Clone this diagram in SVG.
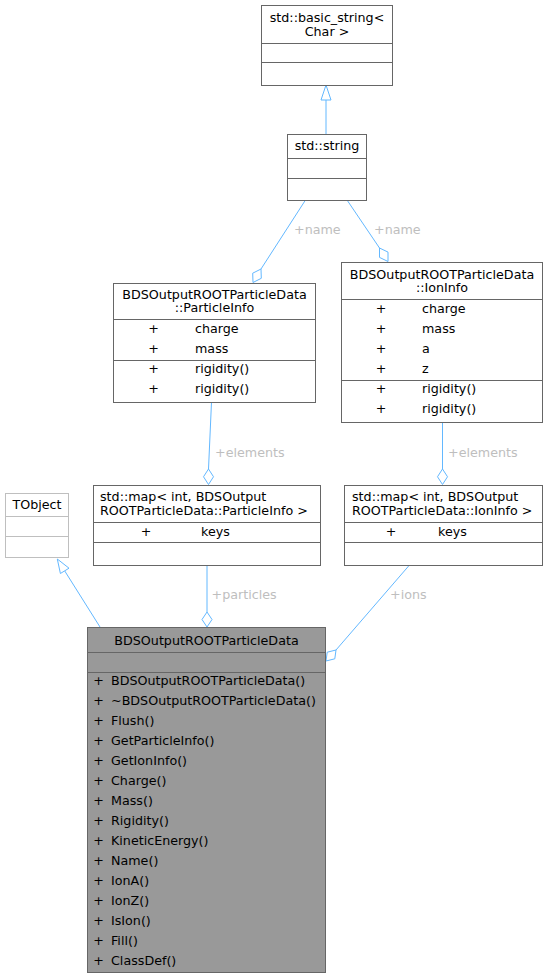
<svg xmlns="http://www.w3.org/2000/svg" width="549" height="979" viewBox="0 0 549 979">
<style>
text{font-family:"DejaVu Sans",sans-serif;font-size:12.7px;fill:#000}
.box{fill:#fff;stroke:#666;stroke-width:1}
.main{fill:#999;stroke:#666;stroke-width:1}
.ext{fill:#fff;stroke:#bfbfbf;stroke-width:1}
.sep{stroke:#666;stroke-width:1}
.sepx{stroke:#bfbfbf;stroke-width:1}
.c{text-anchor:middle}
.edge{stroke:#63b8ff;stroke-width:1;fill:none}
.head{stroke:#63b8ff;stroke-width:1;fill:#fff}
.lbl{fill:#bebebe}
</style>
<rect width="549" height="979" fill="#fff"/>
<g id="connectors">
  <line class="edge" x1="326" y1="134" x2="326" y2="100"/>
  <polygon class="head" points="326,85 321,100 331,100"/>
  <line class="edge" x1="305.5" y1="200" x2="261" y2="269"/>
  <polygon class="head" points="261,269 261.3,278.3 253,282.5 252.7,273.2"/>
  <text class="lbl" x="294" y="234">+name</text>
  <line class="edge" x1="347" y1="200" x2="379.5" y2="248"/>
  <polygon class="head" points="379.5,248 388,252.1 388,261.5 379.5,257.4"/>
  <text class="lbl" x="374" y="234">+name</text>
  <line class="edge" x1="211.5" y1="402" x2="208.5" y2="469"/>
  <polygon class="head" points="208.5,469 213.5,476.75 208.5,484.5 203.5,476.75"/>
  <text class="lbl" x="215" y="457">+elements</text>
  <line class="edge" x1="442.5" y1="422" x2="442.5" y2="469"/>
  <polygon class="head" points="442.5,469 447.5,476.75 442.5,484.5 437.5,476.75"/>
  <text class="lbl" x="448" y="457">+elements</text>
  <line class="edge" x1="207" y1="565" x2="207" y2="612"/>
  <polygon class="head" points="207,612 212,619.5 207,627 202,619.5"/>
  <text class="lbl" x="211.5" y="599">+particles</text>
  <line class="edge" x1="409.5" y1="565" x2="336" y2="650"/>
  <polygon class="head" points="336,650 334.8,658.8 326,661 327.2,652.2"/>
  <text class="lbl" x="390" y="599">+ions</text>
  <line class="edge" x1="100" y1="627" x2="64.7" y2="570.9"/>
  <polygon class="head" points="57.3,559 69,568.2 60.4,573.5"/>
</g>
<g id="basic_string">
  <rect class="box" x="261.5" y="5.5" width="131" height="80"/>
  <line class="sep" x1="261.5" y1="43.5" x2="392.5" y2="43.5"/>
  <line class="sep" x1="261.5" y1="62.5" x2="392.5" y2="62.5"/>
  <text class="c" x="327" y="22">std::basic_string&lt;</text>
  <text class="c" x="327" y="36">Char &gt;</text>
</g>
<g id="string">
  <rect class="box" x="287.5" y="134.5" width="79" height="66"/>
  <line class="sep" x1="287.5" y1="158.5" x2="366.5" y2="158.5"/>
  <line class="sep" x1="287.5" y1="178.5" x2="366.5" y2="178.5"/>
  <text class="c" x="327" y="150">std::string</text>
</g>
<g id="ParticleInfo">
  <rect class="box" x="113.5" y="283.5" width="202" height="119"/>
  <line class="sep" x1="113.5" y1="319.5" x2="315.5" y2="319.5"/>
  <line class="sep" x1="113.5" y1="360.5" x2="315.5" y2="360.5"/>
  <text class="c" x="214.5" y="298.5">BDSOutputROOTParticleData</text>
  <text class="c" x="214.5" y="312">::ParticleInfo</text>
  <text class="c" x="153.5" y="332.5">+</text><text x="195" y="332.5">charge</text>
  <text class="c" x="153.5" y="352.5">+</text><text x="195" y="352.5">mass</text>
  <text class="c" x="153.5" y="372.5">+</text><text x="195" y="372.5">rigidity()</text>
  <text class="c" x="153.5" y="392.5">+</text><text x="195" y="392.5">rigidity()</text>
</g>
<g id="IonInfo">
  <rect class="box" x="341.5" y="262.5" width="201" height="160"/>
  <line class="sep" x1="341.5" y1="299.5" x2="542.5" y2="299.5"/>
  <line class="sep" x1="341.5" y1="380.5" x2="542.5" y2="380.5"/>
  <text class="c" x="442" y="278.5">BDSOutputROOTParticleData</text>
  <text class="c" x="442" y="292">::IonInfo</text>
  <text class="c" x="381" y="313">+</text><text x="422" y="313">charge</text>
  <text class="c" x="381" y="333">+</text><text x="422" y="333">mass</text>
  <text class="c" x="381" y="353">+</text><text x="422" y="353">a</text>
  <text class="c" x="381" y="373">+</text><text x="422" y="373">z</text>
  <text class="c" x="381" y="393">+</text><text x="422" y="393">rigidity()</text>
  <text class="c" x="381" y="413">+</text><text x="422" y="413">rigidity()</text>
</g>
<g id="TObject">
  <rect class="ext" x="5.5" y="493.5" width="63" height="64"/>
  <line class="sepx" x1="5.5" y1="516.5" x2="68.5" y2="516.5"/>
  <line class="sepx" x1="5.5" y1="536.5" x2="68.5" y2="536.5"/>
  <text x="12.5" y="509">TObject</text>
</g>
<g id="map_particle">
  <rect class="box" x="93.5" y="485.5" width="227" height="80"/>
  <line class="sep" x1="93.5" y1="522.5" x2="320.5" y2="522.5"/>
  <line class="sep" x1="93.5" y1="542.5" x2="320.5" y2="542.5"/>
  <text x="100" y="501">std::map&lt; int, BDSOutput</text>
  <text x="100" y="515">ROOTParticleData::ParticleInfo &gt;</text>
  <text class="c" x="146" y="536">+</text><text x="201" y="536">keys</text>
</g>
<g id="map_ion">
  <rect class="box" x="344.5" y="485.5" width="198" height="80"/>
  <line class="sep" x1="344.5" y1="522.5" x2="542.5" y2="522.5"/>
  <line class="sep" x1="344.5" y1="542.5" x2="542.5" y2="542.5"/>
  <text x="352" y="501">std::map&lt; int, BDSOutput</text>
  <text x="352" y="515">ROOTParticleData::IonInfo &gt;</text>
  <text class="c" x="391" y="536">+</text><text x="438" y="536">keys</text>
</g>
<g id="BDSOutputROOTParticleData">
  <rect class="main" x="87.5" y="627.5" width="238" height="345"/>
  <line class="sep" x1="87.5" y1="652.5" x2="325.5" y2="652.5"/>
  <line class="sep" x1="87.5" y1="672.5" x2="325.5" y2="672.5"/>
  <text class="c" x="206.5" y="645">BDSOutputROOTParticleData</text>
  <g>
    <text class="c" x="98.5" y="685">+</text><text x="111" y="685">BDSOutputROOTParticleData()</text>
    <text class="c" x="98.5" y="705">+</text><text x="111" y="705">~BDSOutputROOTParticleData()</text>
    <text class="c" x="98.5" y="725">+</text><text x="111" y="725">Flush()</text>
    <text class="c" x="98.5" y="745">+</text><text x="111" y="745">GetParticleInfo()</text>
    <text class="c" x="98.5" y="765">+</text><text x="111" y="765">GetIonInfo()</text>
    <text class="c" x="98.5" y="785">+</text><text x="111" y="785">Charge()</text>
    <text class="c" x="98.5" y="805">+</text><text x="111" y="805">Mass()</text>
    <text class="c" x="98.5" y="825">+</text><text x="111" y="825">Rigidity()</text>
    <text class="c" x="98.5" y="845">+</text><text x="111" y="845">KineticEnergy()</text>
    <text class="c" x="98.5" y="865">+</text><text x="111" y="865">Name()</text>
    <text class="c" x="98.5" y="885">+</text><text x="111" y="885">IonA()</text>
    <text class="c" x="98.5" y="905">+</text><text x="111" y="905">IonZ()</text>
    <text class="c" x="98.5" y="925">+</text><text x="111" y="925">IsIon()</text>
    <text class="c" x="98.5" y="945">+</text><text x="111" y="945">Fill()</text>
    <text class="c" x="98.5" y="965">+</text><text x="111" y="965">ClassDef()</text>
  </g>
</g>
</svg>
